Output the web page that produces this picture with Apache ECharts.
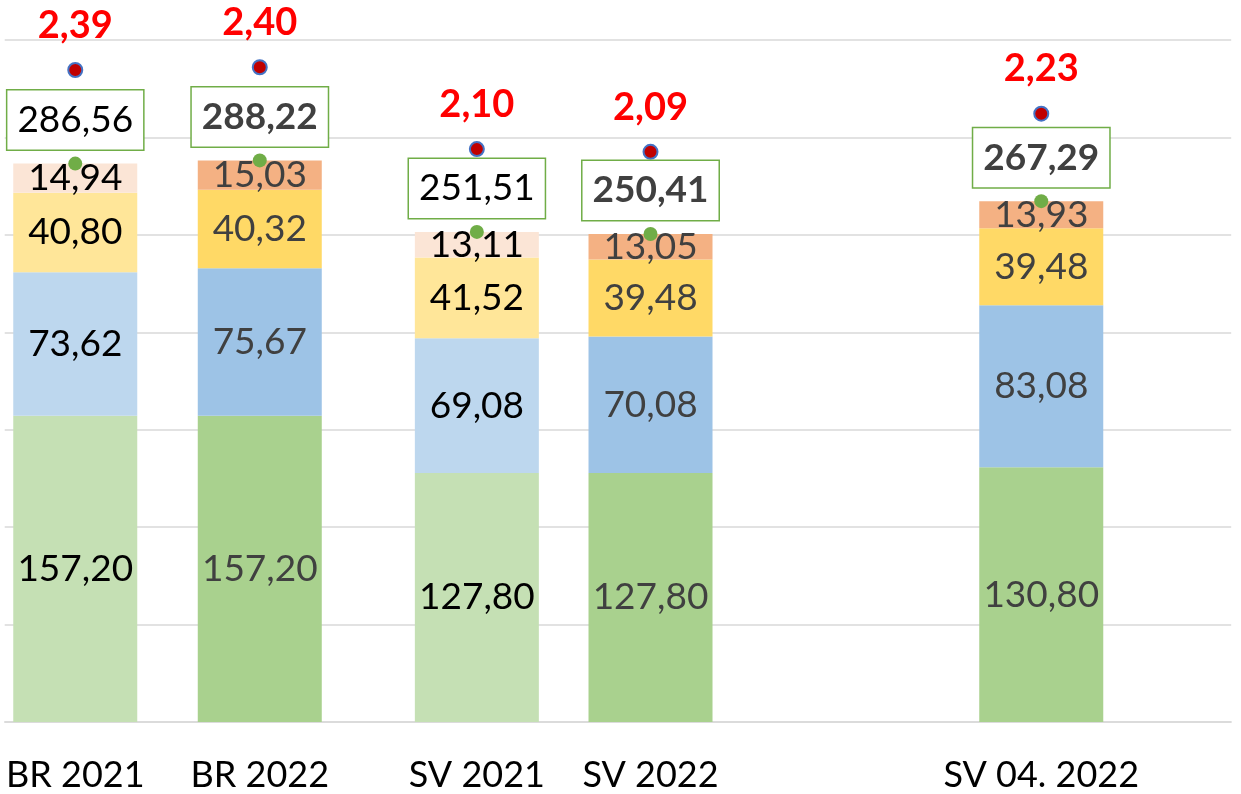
<!DOCTYPE html>
<html>
<head>
<meta charset="utf-8">
<script src="https://cdn.jsdelivr.net/npm/echarts@6/dist/echarts.min.js"></script>
<style>
html,body{margin:0;padding:0;background:#fff;}
#chart{width:1241px;height:794px;}
</style>
</head>
<body>
<div id="chart"></div>
<script>
// ---- data ----
var categories = ['BR 2021', 'BR 2022', 'SV 2021', 'SV 2022', 'SV 04. 2022'];
var greenPart  = [157.20, 157.20, 127.80, 127.80, 130.80];
var bluePart   = [73.62, 75.67, 69.08, 70.08, 83.08];
var yellowPart = [40.80, 40.32, 41.52, 39.48, 39.48];
var orangePart = [14.94, 15.03, 13.11, 13.05, 13.93];
var totals     = [286.56, 288.22, 251.51, 250.41, 267.29];
var ratios     = [2.39, 2.40, 2.10, 2.09, 2.23];
var isLight    = [true, false, true, false, false];
var yTicks     = [0, 50, 100, 150, 200, 250, 300, 350];

// layout slots on category axis (gaps between groups)
var slotIndex = [6, 23, 43, 59, 95];
var slotCount = 113;

var FONT = 'Lato';
function fmt(v) { return v.toFixed(2).replace('.', ','); }

var axisData = [];
for (var i = 0; i < slotCount; i++) axisData.push('');
categories.forEach(function (c, k) { axisData[slotIndex[k]] = c; });

var lightColors = ['#C5E0B4', '#BDD7EE', '#FFE699', '#FBE5D6'];
var darkColors  = ['#A9D18E', '#9DC3E6', '#FFD966', '#F4B183'];
var parts = [greenPart, bluePart, yellowPart, orangePart];
var partNames = ['A', 'B', 'C', 'D'];

function padded(builder) {
  var arr = [];
  for (var i = 0; i < slotCount; i++) arr.push(null);
  categories.forEach(function (c, k) { arr[slotIndex[k]] = builder(k); });
  return arr;
}

var series = [];
parts.forEach(function (p, pi) {
  series.push({
    name: partNames[pi],
    type: 'bar',
    stack: 'total',
    barWidth: 124,
    z: 2,
    emphasis: { disabled: true },
    data: padded(function (k) {
      return {
        value: p[k],
        itemStyle: { color: isLight[k] ? lightColors[pi] : darkColors[pi] },
        label: { color: isLight[k] ? '#000000' : '#404040' }
      };
    }),
    label: {
      show: true,
      position: 'inside',
      fontFamily: FONT,
      fontSize: 37,
      formatter: function (d) { return fmt(d.value); }
    }
  });
});

series.push({
  name: 'Total',
  type: 'scatter',
  z: 5,
  symbol: 'circle',
  symbolSize: 14,
  emphasis: { disabled: true },
  itemStyle: { color: '#70AD47', opacity: 1 },
  data: padded(function (k) {
    return {
      value: totals[k],
      label: {
        color: isLight[k] ? '#000000' : '#404040',
        fontWeight: isLight[k] ? 'normal' : 'bold'
      }
    };
  }),
  label: {
    show: true,
    position: 'top',
    distance: 7,
    opacity: 1,
    fontFamily: FONT,
    fontSize: 37,
    lineHeight: 37,
    backgroundColor: '#ffffff',
    borderColor: '#70AD47',
    borderWidth: 1.5,
    padding: [11, 10, 11, 10],
    formatter: function (d) { return fmt(d.value); }
  }
});

series.push({
  name: 'Ratio',
  type: 'scatter',
  yAxisIndex: 1,
  z: 5,
  symbol: 'circle',
  symbolSize: 14,
  emphasis: { disabled: true },
  itemStyle: { color: '#C00000', borderColor: '#4472C4', borderWidth: 2, opacity: 1 },
  data: padded(function (k) { return ratios[k]; }),
  label: {
    show: true,
    position: 'top',
    distance: 18,
    opacity: 1,
    fontFamily: FONT,
    fontSize: 38,
    lineHeight: 37,
    fontWeight: 'bold',
    color: '#FF0000',
    formatter: function (d) { return fmt(d.value); }
  }
});

var chart = echarts.init(document.getElementById('chart'), null, { renderer: 'canvas' });
chart.setOption({
  animation: false,
  backgroundColor: '#ffffff',
  grid: { left: 4.7, right: 9.8, top: 40, bottom: 71.5, containLabel: false },
  xAxis: {
    type: 'category',
    data: axisData,
    axisTick: { show: false },
    axisLine: { show: true, lineStyle: { color: '#D9D9D9', width: 1.5 } },
    axisLabel: {
      interval: 0,
      margin: 35,
      fontFamily: FONT,
      fontSize: 36,
      lineHeight: 37,
      color: '#000000'
    }
  },
  yAxis: [{
    type: 'value',
    min: yTicks[0],
    max: yTicks[yTicks.length - 1],
    interval: yTicks[1] - yTicks[0],
    axisLabel: { show: false },
    axisLine: { show: false },
    axisTick: { show: false },
    splitLine: { show: true, lineStyle: { color: '#D9D9D9', width: 1.5 } }
  }, {
    type: 'value',
    min: 0,
    max: 2.5,
    show: false,
    splitLine: { show: false }
  }],
  series: series
});
</script>
</body>
</html>
